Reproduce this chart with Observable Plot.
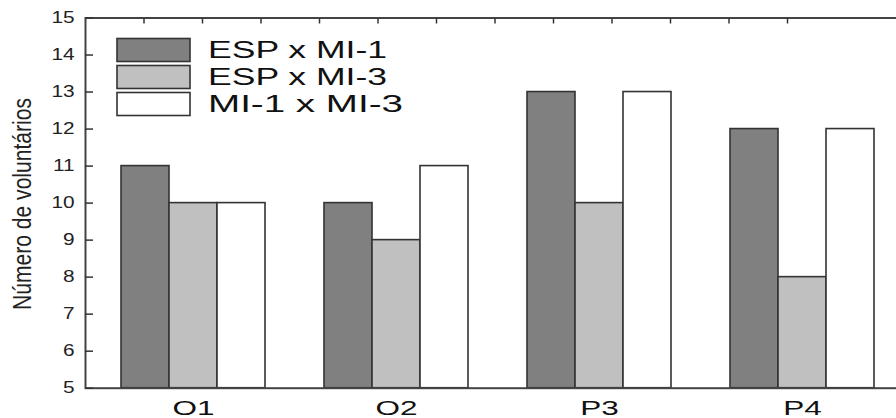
<!DOCTYPE html>
<html><head><meta charset="utf-8">
<script src="https://cdn.jsdelivr.net/npm/d3@7"></script>
<script src="https://cdn.jsdelivr.net/npm/@observablehq/plot@0.6"></script>
<style>
html,body{margin:0;padding:0;background:#fff;overflow:hidden}
#wrap{position:relative;width:896px;height:418px;overflow:hidden;background:#fff}
#wrap svg{position:absolute;left:0;top:0}
</style></head><body><div id="wrap"></div>
<script>
const categories = ["O1", "O2", "P3", "P4"];
const series = ["ESP x MI-1", "ESP x MI-3", "MI-1 x MI-3"];
const espMi1 = [11, 10, 13, 12];
const espMi3 = [10, 9, 10, 8];
const mi1Mi3 = [10, 11, 13, 12];
const yDomain = [5, 15];
const yTicks = [5, 6, 7, 8, 9, 10, 11, 12, 13, 14, 15];
const topTicks = [1, 2, 3, 4, 5, 6, 7, 8, 9, 10, 11, 12];
const colors = ["#808080", "#c0c0c0", "#ffffff"];
const yLabel = "Número de voluntários";

const seriesValues = [espMi1, espMi3, mi1Mi3];
const data = categories.flatMap((c, i) => seriesValues.map((vals, j) => ({cat: c, series: series[j], value: vals[i]})));

const H = 418, mt = 17.5, mb = 30.3, ml = 85;
const font = "'Liberation Sans', Arial, sans-serif";
const wrap = document.getElementById("wrap");

const plotB = Plot.plot({
  width: 909, height: H, marginTop: mt, marginBottom: mb, marginLeft: ml, marginRight: 0,
  style: {background: "transparent", maxWidth: "none", fontFamily: font, color: "#111"},
  fx: {domain: categories, paddingInner: 0.283, paddingOuter: 0.165, label: null},
  x: {domain: series, padding: 0, axis: null},
  y: {domain: yDomain, axis: null},
  color: {domain: series, range: colors},
  marks: [
    Plot.barY(data, {fx: "cat", x: "series", y1: yDomain[0], y2: "value", fill: "series", stroke: "#333", strokeWidth: 1.6}),
    Plot.axisFx({anchor: "bottom", tickSize: 0, tickPadding: 12, fontSize: 21, label: null})
  ]
});
wrap.appendChild(plotB);

const plotA = Plot.plot({
  width: 904, height: H, marginTop: mt, marginBottom: mb, marginLeft: ml, marginRight: 0,
  style: {background: "transparent", maxWidth: "none", fontFamily: font, color: "#222"},
  x: {domain: [0, 14]},
  y: {domain: yDomain},
  marks: [
    Plot.frame({stroke: "#444", strokeWidth: 2}),
    Plot.axisY(yTicks, {anchor: "left", tickSize: -8, tickPadding: 19, fontSize: 16, stroke: "#333", strokeWidth: 1.5, label: null}),
    Plot.axisY(yTicks, {anchor: "right", tickSize: -9, tickFormat: () => "", stroke: "#bbb", label: null}),
    Plot.axisX(topTicks, {anchor: "top", tickSize: -5, tickFormat: () => "", stroke: "#333", strokeWidth: 1.5, label: null})
  ]
});
wrap.appendChild(plotA);

// horizontal stretch of the original text rendering
plotA.querySelectorAll('[aria-label="y-axis tick label"] text').forEach(t => {
  const w = t.getComputedTextLength();
  if (w > 0) { t.setAttribute("textLength", w * 1.3); t.setAttribute("lengthAdjust", "spacingAndGlyphs"); }
});
plotB.querySelectorAll('[aria-label="fx-axis tick label"] text').forEach(t => {
  const w = t.getComputedTextLength();
  if (w > 0) { t.setAttribute("textLength", w * 1.5); t.setAttribute("lengthAdjust", "spacingAndGlyphs"); }
});

// legend and y label overlay
const ov = d3.create("svg").attr("width", 896).attr("height", H)
  .attr("font-family", font);
const textLens = [179, 179, 195];
const lg = ov.append("g");
series.forEach((s, i) => {
  lg.append("rect").attr("x", 117).attr("y", 38.5 + i * 27).attr("width", 73).attr("height", 23)
    .attr("fill", colors[i]).attr("stroke", "#333").attr("stroke-width", 1.6);
  lg.append("text").attr("x", 208).attr("y", 58.3 + i * 27).attr("font-size", 23).attr("fill", "#111")
    .attr("textLength", textLens[i]).attr("lengthAdjust", "spacingAndGlyphs").text(s);
});
ov.append("text").attr("transform", "translate(31,204) rotate(-90)").attr("text-anchor", "middle")
  .attr("font-size", 25).attr("fill", "#222").attr("textLength", 212).attr("lengthAdjust", "spacingAndGlyphs")
  .text(yLabel);
wrap.appendChild(ov.node());
</script></body></html>
